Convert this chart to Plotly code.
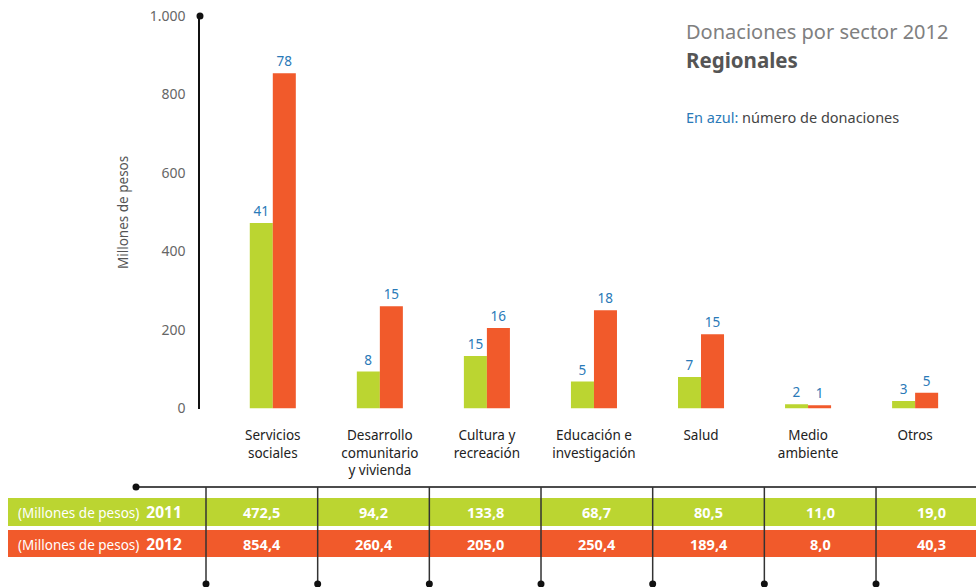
import plotly.graph_objects as go

categories = ["Servicios<br>sociales", "Desarrollo<br>comunitario<br>y vivienda", "Cultura y<br>recreación",
              "Educación e<br>investigación", "Salud", "Medio<br>ambiente", "Otros"]
v2011 = [472.5, 94.2, 133.8, 68.7, 80.5, 11.0, 19.0]
v2012 = [854.4, 260.4, 205.0, 250.4, 189.4, 8.0, 40.3]
n2011 = [41, 8, 15, 5, 7, 2, 3]
n2012 = [78, 15, 16, 18, 15, 1, 5]
y_ticks = [0, 200, 400, 600, 800, 1000]

W, H = 976, 587
GREEN = "#BBD531"
ORANGE = "#F15A2B"
BLUE = "#2A7AB8"
FONT = "Noto Sans"


def X(px):
    return px / W


def Y(py):
    return 1 - py / H


fig = go.Figure()
fig.add_trace(go.Bar(x=categories, y=v2011, marker_color=GREEN, name="2011",
                     text=[str(n) for n in n2011], textposition="outside",
                     textfont=dict(color=BLUE, size=13.5, family=FONT), cliponaxis=False,
                     constraintext="none"))
fig.add_trace(go.Bar(x=categories, y=v2012, marker_color=ORANGE, name="2012",
                     text=[str(n) for n in n2012], textposition="outside",
                     textfont=dict(color=BLUE, size=13.5, family=FONT), cliponaxis=False,
                     constraintext="none"))

fig.update_layout(
    template="none",
    width=W, height=H,
    margin=dict(l=0, r=0, t=0, b=0),
    paper_bgcolor="white", plot_bgcolor="white",
    barmode="group", bargap=0.57, bargroupgap=0,
    showlegend=False,
    separators=",.",
    font=dict(family=FONT, color="#222"),
    xaxis=dict(domain=[X(200), X(974)], range=[-0.68, 6.55], showline=False, showgrid=False,
               zeroline=False, ticks="", tickfont=dict(size=13.5, color="#222"),
               ticklabelstandoff=17, automargin=False, ticklabeloverflow="allow"),
    yaxis=dict(domain=[Y(408.5), Y(16)], range=[0, 1000], tickvals=y_ticks, separatethousands=True,
               showline=True, linecolor="#111", linewidth=1.5, showgrid=False, zeroline=False,
               ticks="", tickfont=dict(size=14, color="#666"), ticklabelstandoff=10,
               automargin=False, ticklabeloverflow="allow"),
)

shapes = []
# dot at top of y axis
shapes.append(dict(type="circle", xref="paper", yref="paper", x0=X(196.5), x1=X(203.5),
                   y0=Y(19.5), y1=Y(12.5), fillcolor="#111", line=dict(width=0)))

# table rows
shapes.append(dict(type="rect", xref="paper", yref="paper", x0=X(8), x1=X(976), y0=Y(526), y1=Y(498),
                   fillcolor=GREEN, line=dict(width=0), layer="below"))
shapes.append(dict(type="rect", xref="paper", yref="paper", x0=X(8), x1=X(976), y0=Y(557), y1=Y(530),
                   fillcolor=ORANGE, line=dict(width=0), layer="below"))

# horizontal connector line with dot
shapes.append(dict(type="line", xref="paper", yref="paper", x0=X(136), x1=X(976), y0=Y(487), y1=Y(487),
                   line=dict(color="#111", width=1.5)))
shapes.append(dict(type="circle", xref="paper", yref="paper", x0=X(132.5), x1=X(139.5),
                   y0=Y(490.5), y1=Y(483.5), fillcolor="#111", line=dict(width=0)))

col0, step = 206, 111.67
for i in range(len(categories)):
    cx = col0 + i * step
    shapes.append(dict(type="line", xref="paper", yref="paper", x0=X(cx), x1=X(cx), y0=Y(487), y1=Y(584),
                       line=dict(color="#333", width=1.5)))
    shapes.append(dict(type="circle", xref="paper", yref="paper", x0=X(cx - 3.5), x1=X(cx + 3.5),
                       y0=Y(587.5), y1=Y(580.5), fillcolor="#111", line=dict(width=0)))

annotations = []
annotations.append(dict(xref="paper", yref="paper", x=X(950), y=Y(31), xanchor="right", yanchor="middle",
                        text="Donaciones por sector 2012", showarrow=False,
                        font=dict(size=20, color="#808080", family=FONT)))
annotations.append(dict(xref="paper", yref="paper", x=X(684), y=Y(60), xanchor="left", yanchor="middle",
                        text="<b>Regionales</b>", showarrow=False,
                        font=dict(size=20.5, color="#555", family=FONT)))
annotations.append(dict(xref="paper", yref="paper", x=X(684), y=Y(117), xanchor="left", yanchor="middle",
                        text=f"<span style='color:{BLUE}'>En azul:</span> número de donaciones", showarrow=False,
                        font=dict(size=14.5, color="#444", family=FONT)))
annotations.append(dict(xref="paper", yref="paper", x=X(123), y=Y(212), xanchor="center", yanchor="middle",
                        text="Millones de pesos", textangle=-90, showarrow=False,
                        font=dict(size=13.5, color="#555", family=FONT)))

rows = [(v2011, "2011", 512), (v2012, "2012", 543.5)]
for vals, year, ry in rows:
    annotations.append(dict(xref="paper", yref="paper", x=X(16), y=Y(ry), xanchor="left", yanchor="middle",
                            text=f"(Millones de pesos)  <b><span style='font-size:15.5px'>{year}</span></b>",
                            showarrow=False, font=dict(size=13.5, color="white", family=FONT)))
    for i, v in enumerate(vals):
        cx = col0 + (i + 0.5) * step
        annotations.append(dict(xref="paper", yref="paper", x=X(cx), y=Y(ry), xanchor="center",
                                yanchor="middle", text="<b>" + f"{v:.1f}".replace(".", ",") + "</b>",
                                showarrow=False, font=dict(size=14.5, color="white", family=FONT)))

fig.update_layout(shapes=shapes, annotations=annotations)
fig.write_html("out.html", config={"displayModeBar": False},
               post_script="document.body.style.margin='0';")
